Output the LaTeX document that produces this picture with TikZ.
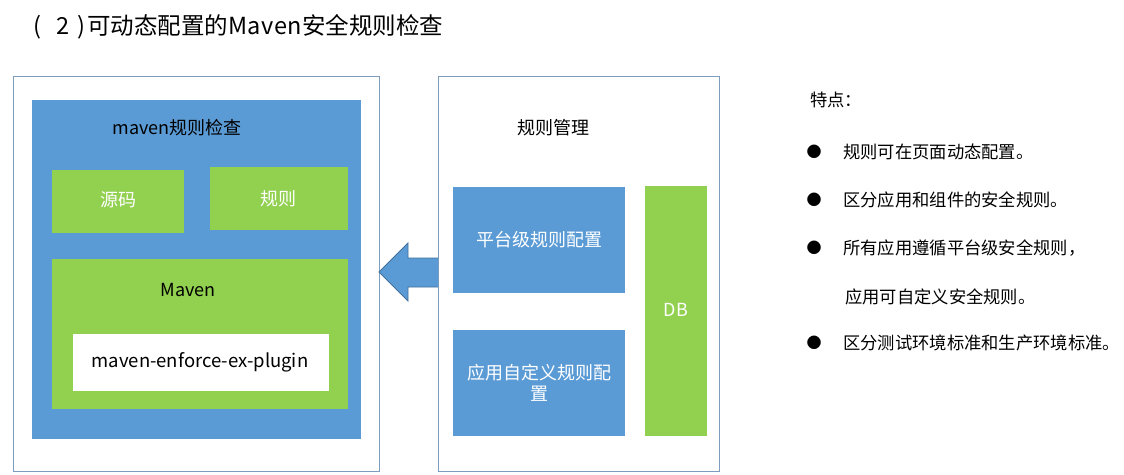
\documentclass[tikz,border=0pt]{standalone}
\usepackage{fontspec}
\setmainfont{Noto Sans CJK SC}
\definecolor{mblue}{HTML}{5B9BD5}
\definecolor{mgreen}{HTML}{92D050}
\definecolor{frameline}{HTML}{7E9CBE}
\definecolor{arrowline}{HTML}{41719C}
\begin{document}
\begin{tikzpicture}[x=1pt,y=-1pt,
  rect/.style={anchor=north west, inner sep=0pt, outer sep=0pt, draw=none},
  framebox/.style={rect, draw=frameline, line width=1pt, fill=white},
  lbl/.style={inner sep=0pt, font=\fontsize{18}{22}\selectfont},
  side/.style={inner sep=0pt, anchor=west, font=\fontsize{17.3}{21}\selectfont},
  dot/.style={inner sep=0pt, font=\fontsize{15}{18}\selectfont}]
\useasboundingbox[fill=white] (0,0) rectangle (1124,474);
% title
\node[inner sep=0pt, anchor=west, font=\fontsize{23.5}{27}\selectfont] (title) at (33,27)
  {(\hspace{15pt}2\hspace{8pt})\hspace{2pt}可动态配置的M\hspace{0.5pt}a\hspace{0.5pt}v\hspace{0.5pt}e\hspace{0.5pt}n安全规则检查};
% left frame
\node[framebox, minimum width=366pt, minimum height=395pt] (L) at (13,76) {};
\node[rect, fill=mblue, minimum width=329pt, minimum height=339pt] (check) at (32,100) {};
\node[lbl] (checkt) at (177,128) {maven规则检查};
\node[rect, fill=mgreen, minimum width=132pt, minimum height=63pt] (src) at (52,170) {};
\node[lbl, text=white] (srct) at (118,200) {源码};
\node[rect, fill=mgreen, minimum width=138pt, minimum height=63pt] (rule) at (210,167) {};
\node[lbl, text=white] (rulet) at (278,199) {规则};
\node[rect, fill=mgreen, minimum width=296pt, minimum height=150pt] (maven) at (52,259) {};
\node[lbl] (mavent) at (188,290) {Maven};
\node[rect, fill=white, minimum width=256pt, minimum height=57pt] (plugin) at (73,334) {};
\node[lbl, font=\fontsize{18.5}{22}\selectfont] (plugint) at (200,362) {maven-enforce-ex-plugin};
% right frame
\node[framebox, minimum width=281pt, minimum height=395pt] (R) at (438,76) {};
\node[lbl] (mgmt) at (553,128) {规则管理};
\node[rect, fill=mblue, minimum width=172pt, minimum height=106pt] (plat) at (453,187) {};
\node[lbl, text=white] (platt) at (539,240) {平台级规则配置};
\node[rect, fill=mblue, minimum width=172pt, minimum height=106pt] (app) at (453,330) {};
\node[lbl, text=white, align=center, font=\fontsize{18}{21}\selectfont] (appt) at (539,383) {应用自定义规则配\\置};
\node[rect, fill=mgreen, minimum width=62pt, minimum height=250pt] (db) at (645,186) {};
\node[lbl, text=white] (dbt) at (676,310) {DB};
% block arrow from R to L
\draw[fill=mblue, draw=arrowline, line width=0.8pt]
  (R.west |- 0,258) -- (408,258) -- (408,243) -- (L.east |- 0,272) -- (408,301) -- (408,287) -- (R.west |- 0,287);
% features
\node[side] (feat) at (810,100) {特点：};
\node[dot] (b1) at (814,152) {●};
\node[side] (t1) at (843,152) {规则可在页面动态配置。};
\node[dot] (b2) at (814,200) {●};
\node[side] (t2) at (843,200) {区分应用和组件的安全规则。};
\node[dot] (b3) at (814,248) {●};
\node[side] (t3) at (843,248) {所有应用遵循平台级安全规则，};
\node[side] (t3b) at (845,297) {应用可自定义安全规则。};
\node[dot] (b4) at (814,343) {●};
\node[side] (t4) at (843,343) {区分测试环境标准和生产环境标准。};
\end{tikzpicture}
\end{document}
